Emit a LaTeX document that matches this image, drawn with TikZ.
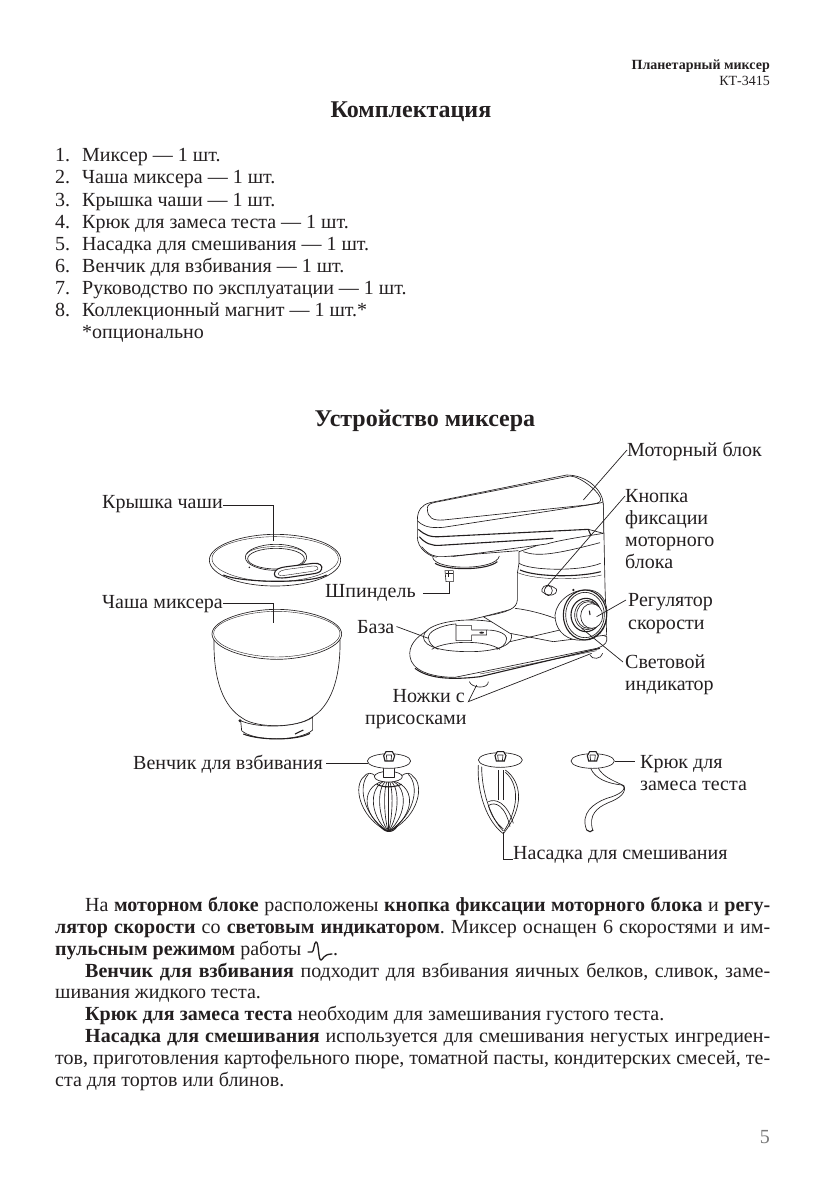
\documentclass[tikz,border=0pt]{standalone}
\usepackage{fontspec}
\setmainfont{Liberation Serif}
\usetikzlibrary{positioning,calc}
\definecolor{ink}{HTML}{231F20}
\definecolor{pagegray}{HTML}{7A7A7A}
\AtBeginDocument{\frenchspacing}
\tikzset{
  headtext/.style={anchor=base east, inner sep=0pt, text=ink},
  titletext/.style={anchor=base, inner sep=0pt, text=ink, font=\fontsize{24}{26}\selectfont\bfseries},
  listtext/.style={anchor=base west, inner sep=0pt, text=ink, font=\fontsize{20}{22}\selectfont},
  bodytext/.style={anchor=base west, inner sep=0pt, text=ink, font=\fontsize{20}{22}\selectfont},
  calltext/.style={anchor=base west, inner sep=0pt, text=ink, align=left, font=\fontsize{20}{22}\selectfont},
  outline/.style={draw=ink, line width=0.65pt, line join=round},
  thinline/.style={draw=ink, line width=0.4pt},
  heavyline/.style={draw=ink, line width=1.1pt},
  leader/.style={draw=ink, line width=0.7pt},
}
\begin{document}
\begin{tikzpicture}[x=1pt, y=-1pt]
  \useasboundingbox (0,0) rectangle (839,1193);
  \fill[white] (0,0) rectangle (839,1193);

  % Header
  \node[headtext, font=\fontsize{14}{16}\selectfont\bfseries] (model) at (770,70) {Планетарный миксер};
  \node[headtext, font=\fontsize{14}{16}\selectfont] (modelno) at (770,86) {КТ-3415};
  \node[titletext] (settitle) at (411,118) {Комплектация};
  \node[titletext] (devtitle) at (425,426) {Устройство миксера};

  % Parts list
  \foreach \idx/\ypos/\itemtext in {1/162/{Миксер — 1 шт.}, 2/184/{Чаша миксера — 1 шт.}, 3/206/{Крышка чаши — 1 шт.},
    4/228/{Крюк для замеса теста — 1 шт.}, 5/250/{Насадка для смешивания — 1 шт.}, 6/272/{Венчик для взбивания — 1 шт.},
    7/294/{Руководство по эксплуатации — 1 шт.}, 8/316/{Коллекционный магнит — 1 шт.*}} {
    \node[listtext] (num\idx) at (55,\ypos) {\idx.};
    \node[listtext] (item\idx) at (82,\ypos) {\itemtext};
  }
  \node[listtext] (itemnote) at (82,338) {*опционально};

  % Callouts
  \node[calltext] (lidlabel) at (102,508) {Крышка чаши};
  \node[calltext] (bowllabel) at (102,608) {Чаша миксера};
  \node[calltext] (motorlabel) at (627,456) {Моторный блок};
  \node[calltext] (locklabel) at (625,502) {Кнопка};
  \node[calltext] (locklabelb) at (625,524) {фиксации};
  \node[calltext] (locklabelc) at (625,546) {моторного};
  \node[calltext] (locklabeld) at (625,568) {блока};
  \node[calltext] (speedlabel) at (628,606) {Регулятор};
  \node[calltext] (speedlabelb) at (628,629) {скорости};
  \node[calltext] (lightlabel) at (625,668) {Световой};
  \node[calltext] (lightlabelb) at (625,690) {индикатор};
  \node[calltext] (spindlelabel) at (325,597) {Шпиндель};
  \node[calltext] (baselabel) at (357,633) {База};
  \node[calltext, anchor=base east] (feetlabel) at (465,702) {Ножки с};
  \node[calltext] (feetlabelb) at (365,724) {присосками};
  \node[calltext] (whisklabel) at (133,769) {Венчик для взбивания};
  \node[calltext] (hooklabel) at (640,768) {Крюк для};
  \node[calltext] (hooklabelb) at (640,790) {замеса теста};
  \node[calltext] (beaterlabel) at (513,859) {Насадка для смешивания};

  % Lid and bowl
  \begin{scope}[shift={(90,480)}, scale=1/3]
    \draw[outline, fill=white] (358,240) .. controls (358,195) and (460,163) .. (555,163) .. controls (660,163) and (752,195) .. (752,240) .. controls (752,285) and (660,318) .. (555,318) .. controls (450,318) and (358,285) .. (358,240) -- cycle;
    \draw[thinline] (366,236) .. controls (366,195) and (465,170) .. (555,170) .. controls (650,170) and (745,195) .. (745,236) .. controls (745,275) and (650,305) .. (555,305) .. controls (460,305) and (366,275) .. (366,236) -- cycle;
    \draw[heavyline] (400,285) .. controls (450,308) and (660,312) .. (710,285);
    \draw[outline] (558,232) ellipse[x radius=92, y radius=39];
    \draw[outline] (558,236) ellipse[x radius=85, y radius=31];
    \draw[thinline] (470,222) .. controls (490,192) and (630,192) .. (648,222);
    \draw[heavyline, fill=white] (553,282) .. controls (553,268) and (570,262) .. (590,260) -- (670,250) .. controls (690,248) and (698,258) .. (695,267) .. controls (692,278) and (680,280) .. (665,282) -- (590,293) .. controls (570,295) and (553,295) .. (553,282) -- cycle;
    \draw[thinline] (565,282) .. controls (565,274) and (578,270) .. (592,268) -- (668,258) .. controls (680,257) and (686,262) .. (684,267) .. controls (680,272) and (672,273) .. (660,275) -- (592,285) .. controls (578,287) and (565,288) .. (565,282) -- cycle;
    \fill[ink] (478,262) circle[radius=2.5];
    \draw[outline, fill=white] (372,480) .. controls (370,600) and (400,680) .. (458,715) .. controls (500,745) and (620,745) .. (665,712) .. controls (720,680) and (752,600) .. (750,480) -- cycle;
    \draw[outline, fill=white] (366,462) .. controls (366,420) and (470,388) .. (560,388) .. controls (650,388) and (755,420) .. (755,462) .. controls (755,505) and (650,538) .. (560,538) .. controls (470,538) and (366,505) .. (366,462) -- cycle;
    \draw[thinline] (371,460) .. controls (371,424) and (470,394) .. (560,394) .. controls (650,394) and (750,424) .. (750,460) .. controls (750,500) and (650,531) .. (560,531) .. controls (470,531) and (371,500) .. (371,460) -- cycle;
    \draw[outline, fill=white] (452,722) -- (455,752) .. controls (490,785) and (630,785) .. (668,750) -- (668,712) .. controls (620,745) and (500,745) .. (452,722) -- cycle;
    \draw[heavyline] (460,762) .. controls (510,782) and (620,782) .. (660,760);
    \fill[ink] (450,722) circle[radius=5];
    \draw[heavyline] (615,762) -- (640,750);
  \end{scope}

  % Mixer
  \begin{scope}[shift={(340,440)}, scale=1/3]
    % base
    \draw[outline, fill=white] (270,568) .. controls (225,590) and (205,620) .. (210,650) .. controls (215,690) and (270,712) .. (345,712) -- (770,625) .. controls (800,615) and (802,605) .. (800,590) -- (640,530) -- (525,505) -- (430,530) -- cycle;
    \draw[heavyline] (225,685) .. controls (260,712) and (320,722) .. (420,710) -- (780,625);
    \draw[thinline] (420,702) -- (770,632);
    \draw[outline] (388,725) .. controls (395,745) and (445,748) .. (445,725);
    \draw[outline] (750,645) .. controls (755,660) and (785,658) .. (788,640);
    \draw[outline, fill=white] (250,590) .. controls (255,555) and (330,540) .. (390,540) .. controls (460,540) and (515,555) .. (515,590) .. controls (515,625) and (440,635) .. (390,635) .. controls (320,635) and (250,625) .. (250,590) -- cycle;
    \draw[outline] (265,590) .. controls (270,565) and (330,552) .. (348,552) -- (348,602) -- (395,602) -- (395,585) -- (440,585) -- (440,570) -- (395,570) -- (395,557) -- (348,557);
    \draw[outline] (440,570) .. controls (480,570) and (500,585) .. (500,595) .. controls (500,615) and (480,625) .. (470,628);
    \draw[outline] (265,590) .. controls (265,610) and (280,622) .. (295,628);
    \draw[outline] (275,628) .. controls (320,600) and (440,600) .. (480,628);
    \fill[ink] (425,578) ellipse[x radius=7, y radius=3];
    % column
    \draw[outline, fill=white] (537,335) -- (537,370) -- (532,400) -- (532,480) .. controls (530,505) and (510,515) .. (430,530) -- (510,580) -- (640,605) -- (800,585) -- (795,440) -- (790,190) -- (640,300) -- cycle;
    \draw[outline] (525,505) .. controls (570,510) and (620,525) .. (645,535);
    \draw[outline] (510,605) -- (660,570);
    \draw[outline] (537,370) .. controls (570,392) and (720,395) .. (782,370);
    \draw[heavyline] (540,390) .. controls (590,412) and (720,412) .. (782,395);
    \draw[thinline] (533,398) .. controls (590,422) and (720,420) .. (785,405);
    \draw[outline] (550,335) .. controls (590,350) and (640,345) .. (780,308);
    % head
    \draw[outline, fill=white] (232,242) .. controls (232,210) and (245,195) .. (270,188) -- (680,105) .. controls (740,105) and (790,150) .. (790,195) -- (790,280) .. controls (730,290) and (660,300) .. (620,312) -- (300,355) .. controls (265,350) and (232,325) .. (232,290) -- cycle;
    \draw[outline] (262,205) .. controls (262,195) and (270,190) .. (285,187) -- (690,108) .. controls (720,108) and (785,160) .. (782,180) .. controls (780,190) and (770,190) .. (740,195) -- (310,240) .. controls (280,242) and (262,235) .. (262,205) -- cycle;
    \draw[outline] (232,242) .. controls (250,260) and (270,265) .. (310,262) -- (745,195) .. controls (770,190) and (785,190) .. (790,185);
    \draw[heavyline] (235,268) .. controls (255,285) and (270,292) .. (300,290) -- (745,268) -- (752,285);
    \draw[heavyline] (238,290) .. controls (255,310) and (275,318) .. (300,316) -- (640,295);
    \draw[outline] (745,268) -- (790,280);
    \draw[outline] (245,320) .. controls (265,345) and (285,352) .. (310,350) -- (535,332);
    % spindle hub
    \draw[outline, fill=white] (278,352) .. controls (285,392) and (470,392) .. (478,348);
    \draw[heavyline] (285,370) .. controls (320,392) and (440,392) .. (472,365);
    \draw[outline, fill=white] (315,392) -- (340,392) -- (340,425) -- (318,425) -- cycle;
    \draw[heavyline] (318,400) -- (338,400);
    \draw[heavyline] (326,392) -- (326,410);
    % lock button
    \draw[outline, fill=white] (606,448) .. controls (610,432) and (630,432) .. (650,448) .. controls (650,470) and (625,470) .. (606,455) -- cycle;
    \draw[outline] (625,452) ellipse[x radius=12, y radius=15];
    % knob
    \fill[ink] (700,450) circle[radius=4];
    \draw[outline, fill=white] (645,525) .. controls (650,480) and (700,445) .. (750,450) .. controls (790,455) and (805,495) .. (800,530) .. controls (795,575) and (760,605) .. (710,600) .. controls (670,595) and (645,565) .. (645,525) -- cycle;
    \draw[heavyline] (735,525) ellipse[x radius=65, y radius=75];
    \draw[outline] (735,525) ellipse[x radius=58, y radius=68];
    \draw[heavyline] (738,525) ellipse[x radius=45, y radius=50];
    \draw[outline] (745,525) ellipse[x radius=35, y radius=40];
    \draw[outline] (742,525) ellipse[x radius=38, y radius=44];
    \draw[outline, fill=white] (755,528) ellipse[x radius=33, y radius=37];
    \draw[heavyline] (748,512) -- (750,525);
    \coordinate (motorpt) at (730,180);
    \coordinate (lockpt) at (615,445);
    \coordinate (speedpt) at (770,530);
    \coordinate (lightpt) at (725,565);
    \coordinate (spindlept) at (328,425);
    \coordinate (spindlebend) at (328,460);
    \coordinate (basept) at (265,595);
    \coordinate (feetjoin) at (385,785);
    \coordinate (feetpta) at (410,735);
    \coordinate (feetptb) at (755,640);
  \end{scope}

  % Whisk, beater, hook
  \begin{scope}[shift={(320,735)}, scale=1/3]
    % whisk
    \foreach \bulge in {120,145,170,190,205,220,240,265,290} {
      \draw[outline] (205,135) .. controls (\bulge,145) and (\bulge,240) .. (205,290);
    }
    \draw[outline] (132,125) .. controls (100,150) and (115,240) .. (195,285);
    \draw[outline] (145,118) .. controls (115,150) and (125,235) .. (200,288);
    \draw[outline] (280,125) .. controls (312,150) and (298,240) .. (215,285);
    \draw[outline] (265,118) .. controls (298,150) and (288,235) .. (210,288);
    \draw[outline] (132,125) .. controls (140,112) and (155,112) .. (165,122);
    \draw[outline] (280,125) .. controls (272,112) and (258,112) .. (245,122);
    \draw[heavyline] (180,272) .. controls (195,295) and (220,295) .. (232,272);
    \draw[heavyline] (170,148) .. controls (190,158) and (220,158) .. (245,148);
    \draw[outline, fill=white] (205,125) ellipse[x radius=42, y radius=16];
    \draw[outline, fill=white] (190,98) rectangle (222,128);
    \draw[outline, fill=white] (207,78) ellipse[x radius=65, y radius=22];
    % beater
    \draw[outline] (475,90) .. controls (470,170) and (500,260) .. (550,296);
    \draw[outline] (485,95) .. controls (485,170) and (512,250) .. (550,288);
    \draw[outline] (556,105) .. controls (605,140) and (615,215) .. (550,296);
    \draw[outline] (556,112) .. controls (590,140) and (605,205) .. (552,288);
    \draw[outline] (535,105) -- (535,195);
    \draw[outline] (550,105) -- (550,195);
    \draw[outline] (505,200) .. controls (525,190) and (560,200) .. (580,265);
    \draw[outline] (505,212) .. controls (525,198) and (555,210) .. (570,275);
    \draw[outline] (505,212) .. controls (515,245) and (530,265) .. (550,282);
    \draw[outline, fill=white] (541,75) ellipse[x radius=66, y radius=22];
    % hook
    \draw[outline] (812,100) .. controls (825,130) and (860,145) .. (905,150) .. controls (925,160) and (900,180) .. (860,190) .. controls (820,205) and (780,235) .. (800,285);
    \draw[outline] (835,100) .. controls (850,125) and (875,135) .. (912,152) .. controls (920,172) and (900,190) .. (865,203) .. controls (830,218) and (805,240) .. (818,285);
    \draw[heavyline] (800,285) .. controls (805,292) and (815,292) .. (820,285);
    \draw[outline, fill=white] (818,78) ellipse[x radius=65, y radius=22];
    % nuts on the discs
    \foreach \nutx in {207,541,818} {
      \draw[heavyline, fill=white] (\nutx-16,62) -- (\nutx-9,50) -- (\nutx+10,50) -- (\nutx+17,62) -- (\nutx+12,78) -- (\nutx-12,78) -- cycle;
      \draw[outline] (\nutx-8,60) -- (\nutx+8,60) -- (\nutx+6,78);
      \draw[outline] (\nutx-8,60) -- (\nutx-6,78);
    }
    \coordinate (whiskpt) at (145,85);
    \coordinate (beaterpt) at (550,290);
    \coordinate (beaterbend) at (550,372);
    \coordinate (hookpt) at (885,78);
  \end{scope}

  % Leader lines
  \coordinate (lidbend) at (273,505);
  \coordinate (lidpt) at (273,541);
  \coordinate (bowlbend) at (273,603);
  \coordinate (bowlpt) at (273,623);
  \draw[leader] (lidlabel.east |- lidbend) -- (lidbend) -- (lidpt);
  \draw[leader] (bowllabel.east |- bowlbend) -- (bowlbend) -- (bowlpt);
  \draw[leader] (motorlabel.base west) ++(0,-6) -- (motorpt);
  \draw[leader] (locklabel.base west) ++(0,-6) -- (lockpt);
  \draw[leader] (speedlabel.base west) ++(-2,-6) -- (speedpt);
  \draw[leader] (lightlabel.base west) ++(-2,-6) -- (lightpt);
  \draw[leader] (spindlelabel.east |- spindlebend) ++(7,0) -- (spindlebend) -- (spindlept);
  \draw[leader] (baselabel.east) ++(2,0) -- (basept);
  \draw[leader] (feetpta) -- (feetjoin) -- (feetptb);
  \draw[leader] (whisklabel.east |- whiskpt) ++(3,0) -- (whiskpt);
  \draw[leader] (hookpt) -- ++(20,0);
  \draw[leader] (beaterpt) -- (beaterbend) -- (beaterlabel.west |- beaterbend);

  % Body text
  \node[bodytext] (para1) at (85,911) {\makebox[685pt][s]{На \textbf{моторном блоке} расположены \textbf{кнопка фиксации моторного блока} и \textbf{регу-}}};
  \node[bodytext] (para2) at (55,933) {\makebox[715pt][s]{\textbf{лятор скорости} со \textbf{световым индикатором}. Миксер оснащен 6 скоростями и им-}};
  \node[bodytext] (para3) at (55,955) {\textbf{пульсным режимом} работы};
  \node[bodytext] (para3b) at (333,955) {.};
  \node[bodytext] (para4) at (85,977) {\makebox[685pt][s]{\textbf{Венчик для взбивания} подходит для взбивания яичных белков, сливок, заме-}};
  \node[bodytext] (para5) at (55,998) {шивания жидкого теста.};
  \node[bodytext] (para6) at (85,1020) {\textbf{Крюк для замеса теста} необходим для замешивания густого теста.};
  \node[bodytext] (para7) at (85,1042) {\makebox[685pt][s]{\textbf{Насадка для смешивания} используется для смешивания негустых ингредиен-}};
  \node[bodytext] (para8) at (55,1064) {\makebox[715pt][s]{тов, приготовления картофельного пюре, томатной пасты, кондитерских смесей, те-}};
  \node[bodytext] (para9) at (55,1086) {ста для тортов или блинов.};
  \draw[ink, line width=1.3pt, line cap=round] (308,952) -- (312,952) .. controls (314,952) and (314,942) .. (316,942) .. controls (319,942) and (318,960) .. (321,960) .. controls (323,960) and (323,954) .. (332,954);
  \node[headtext, text=pagegray, font=\fontsize{20}{22}\selectfont] (pageno) at (770,1143) {5};
\end{tikzpicture}
\end{document}
